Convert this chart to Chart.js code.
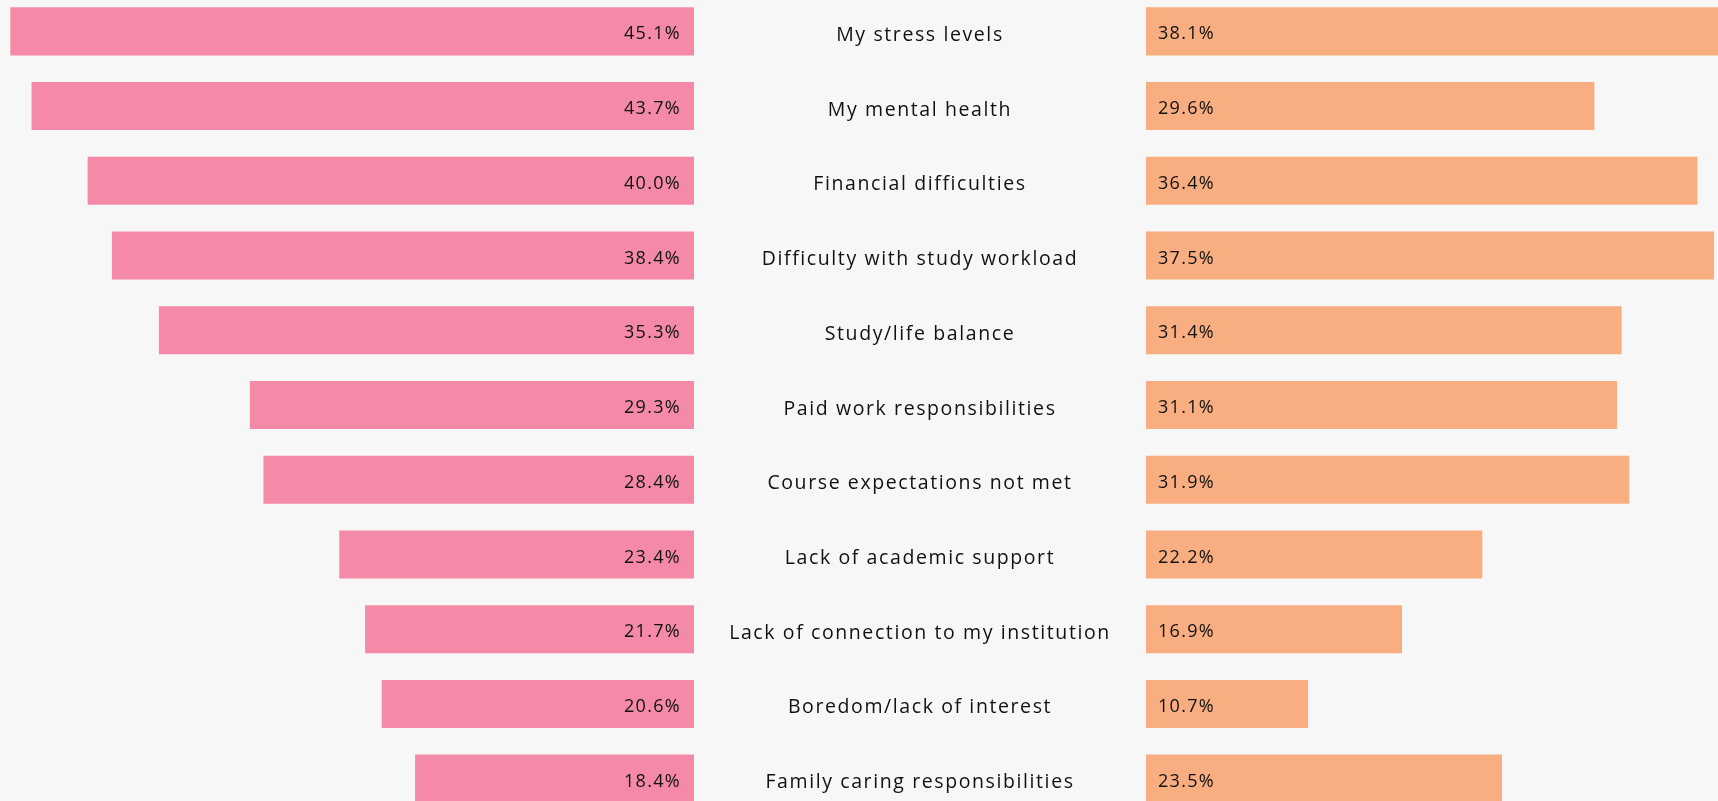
<!DOCTYPE html>
<html>
<head>
<meta charset="utf-8">
<script src="https://cdn.jsdelivr.net/npm/chart.js@4.4.1/dist/chart.umd.min.js"></script>
<style>
    html, body { margin: 0; padding: 0; background: #f7f7f7; overflow: hidden; }
    #wrap { position: relative; width: 1718px; height: 801px; overflow: hidden; }
    #leftBox { position: absolute; left: 0; top: -6px; width: 1146px; height: 822px; }
    #rightBox { position: absolute; left: 1146px; top: -6px; width: 572px; height: 822px; }
</style>
</head>
<body>
<div id="wrap">
    <div id="leftBox"><canvas id="leftChart"></canvas></div>
    <div id="rightBox"><canvas id="rightChart"></canvas></div>
</div>
<script>
const categories = [
    'My stress levels',
    'My mental health',
    'Financial difficulties',
    'Difficulty with study workload',
    'Study/life balance',
    'Paid work responsibilities',
    'Course expectations not met',
    'Lack of academic support',
    'Lack of connection to my institution',
    'Boredom/lack of interest',
    'Family caring responsibilities'
];
const pinkValues = [45.1, 43.7, 40.0, 38.4, 35.3, 29.3, 28.4, 23.4, 21.7, 20.6, 18.4];
const orangeValues = [38.1, 29.6, 36.4, 37.5, 31.4, 31.1, 31.9, 22.2, 16.9, 10.7, 23.5];

const FONT = '"Open Sans", "Noto Sans", sans-serif';
const TEXT_COLOR = '#111111';
const GAP = 452;   // space for the category labels between the two halves

document.addEventListener("DOMContentLoaded", function () {

    // draws the "45.1%" style labels inside each bar
    function valueLabels(side) {
        return {
            id: 'valueLabels',
            afterDatasetsDraw(chart) {
                const ctx = chart.ctx;
                const meta = chart.getDatasetMeta(0);
                const data = chart.data.datasets[0].data;
                ctx.save();
                ctx.letterSpacing = '1.3px';
                ctx.font = '18px ' + FONT;
                ctx.fillStyle = TEXT_COLOR;
                ctx.textBaseline = 'middle';
                meta.data.forEach(function (bar, i) {
                    const txt = data[i].toFixed(1) + '%';
                    if (side === 'left') {
                        ctx.textAlign = 'right';
                        ctx.fillText(txt, bar.base - 13, bar.y + 3);
                    } else {
                        ctx.textAlign = 'left';
                        ctx.fillText(txt, bar.base + 12, bar.y + 3);
                    }
                });
                ctx.restore();
            }
        };
    }

    // category names centred in the gap between the halves
    const middleLabels = {
        id: 'middleLabels',
        afterDraw(chart) {
            const ctx = chart.ctx;
            const yScale = chart.scales.y;
            const cx = chart.chartArea.right + GAP / 2;
            ctx.save();
            ctx.letterSpacing = '1.6px';
            ctx.font = '19.5px ' + FONT;
            ctx.fillStyle = TEXT_COLOR;
            ctx.textAlign = 'center';
            ctx.textBaseline = 'middle';
            categories.forEach(function (label, i) {
                ctx.fillText(label, cx, yScale.getPixelForValue(i) + 4);
            });
            ctx.restore();
        }
    };

    // LEFT - pink bars growing leftwards
    const leftCtx = document.getElementById('leftChart').getContext('2d');
    new Chart(leftCtx, {
        type: 'bar',
        data: {
            labels: categories,
            datasets: [{
                data: pinkValues,
                backgroundColor: '#f589a8',
                barPercentage: 0.643,
                categoryPercentage: 1
            }]
        },
        options: {
            indexAxis: 'y',
            responsive: true,
            maintainAspectRatio: false,
            animation: false,
            layout: { padding: { left: 0, right: GAP, top: 0, bottom: 0 } },
            plugins: {
                legend: { display: false },
                tooltip: { enabled: false }
            },
            scales: {
                x: { display: false, reverse: true, min: 0, max: 45.78 },
                y: { display: false }
            }
        },
        plugins: [valueLabels('left'), middleLabels]
    });

    // RIGHT - orange bars growing rightwards
    const rightCtx = document.getElementById('rightChart').getContext('2d');
    new Chart(rightCtx, {
        type: 'bar',
        data: {
            labels: categories,
            datasets: [{
                data: orangeValues,
                backgroundColor: '#f8ae80',
                barPercentage: 0.643,
                categoryPercentage: 1
            }]
        },
        options: {
            indexAxis: 'y',
            responsive: true,
            maintainAspectRatio: false,
            animation: false,
            layout: { padding: 0 },
            plugins: {
                legend: { display: false },
                tooltip: { enabled: false }
            },
            scales: {
                x: { display: false, min: 0, max: 37.76 },
                y: { display: false }
            }
        },
        plugins: [valueLabels('right')]
    });
});
</script>
</body>
</html>
